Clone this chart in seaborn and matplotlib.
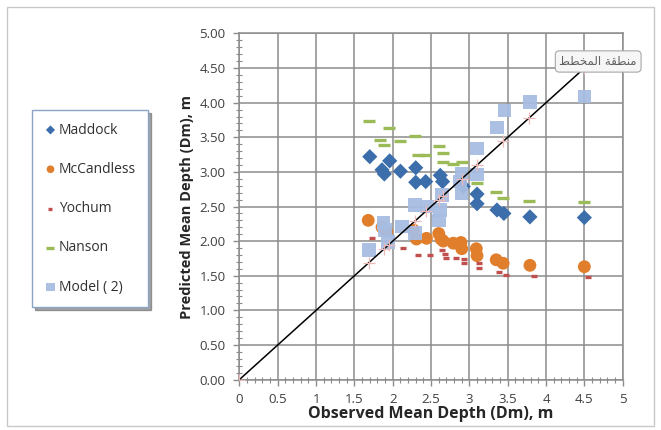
import matplotlib as mpl
import matplotlib.pyplot as plt
import numpy as np
import pandas as pd
import seaborn as sns
from matplotlib.patches import Rectangle
from matplotlib.ticker import MultipleLocator, FuncFormatter

sns.set_style("white")
plt.rcParams["font.family"] = ["Open Sans", "DejaVu Sans"]

# observed (x) vs predicted (y) mean depth
maddock_x = [1.70, 1.86, 1.89, 1.96, 2.10, 2.30, 2.30, 2.43, 2.62, 2.65, 2.92, 3.10, 3.10, 3.36, 3.45, 3.79, 4.50]
maddock_y = [3.22, 3.03, 2.97, 3.16, 3.01, 3.06, 2.85, 2.86, 2.95, 2.86, 2.79, 2.68, 2.54, 2.45, 2.40, 2.35, 2.34]

mccandless_x = [1.68, 1.86, 1.92, 2.27, 2.31, 2.44, 2.60, 2.63, 2.66, 2.79, 2.89, 2.90, 3.09, 3.10, 3.35, 3.44, 3.79, 4.50]
mccandless_y = [2.30, 2.20, 2.14, 2.16, 2.03, 2.04, 2.11, 2.03, 2.00, 1.97, 1.98, 1.89, 1.89, 1.79, 1.73, 1.68, 1.65, 1.63]

yochum_x = [1.73, 2.14, 2.33, 2.49, 2.64, 2.68, 2.70, 2.83, 2.93, 2.93, 3.13, 3.13, 3.39, 3.48, 3.84, 4.55]
yochum_y = [2.04, 1.90, 1.80, 1.80, 1.87, 1.81, 1.75, 1.75, 1.74, 1.68, 1.68, 1.61, 1.56, 1.51, 1.49, 1.48]

nanson_x = [1.69, 1.84, 1.89, 1.95, 2.10, 2.29, 2.33, 2.42, 2.60, 2.65, 2.65, 2.79, 2.90, 3.10, 3.35, 3.44, 3.78, 4.50]
nanson_y = [3.73, 3.46, 3.39, 3.64, 3.44, 3.52, 3.25, 3.25, 3.37, 3.28, 3.14, 3.12, 3.15, 2.84, 2.71, 2.63, 2.58, 2.56]

model_x = [1.69, 1.88, 1.90, 1.94, 2.12, 2.29, 2.29, 2.45, 2.60, 2.62, 2.64, 2.88, 2.90, 2.90, 3.10, 3.10, 3.36, 3.46, 3.79, 4.50]
model_y = [1.87, 2.26, 2.16, 1.99, 2.21, 2.52, 2.12, 2.50, 2.30, 2.45, 2.67, 2.86, 2.69, 2.98, 3.34, 2.96, 3.64, 3.89, 4.01, 4.09]

# 1:1 agreement line
line_x = [0, 1.69, 1.89, 1.95, 2.29, 2.44, 2.60, 2.65, 2.90, 3.10, 3.44, 3.78, 4.50]

x_ticks = [0, 0.5, 1, 1.5, 2, 2.5, 3, 3.5, 4, 4.5, 5]
y_ticks = [0.0, 0.5, 1.0, 1.5, 2.0, 2.5, 3.0, 3.5, 4.0, 4.5, 5.0]

fig = plt.figure(figsize=(6.61, 4.30), dpi=100)
fig.patches.append(Rectangle((0.011, 0.01), 0.978, 0.974, transform=fig.transFigure,
                             fill=False, ec="#c8c8c8", lw=1))
ax = fig.add_axes([0.3623, 0.1174, 0.5797, 0.8047])

line_df = pd.DataFrame({"x": line_x, "y": line_x})
sns.lineplot(data=line_df, x="x", y="y", color="black", lw=1.1, estimator=None,
             marker="+", markersize=9, markeredgecolor="#ecb8b8", mew=0.9,
             ax=ax, label="_line", zorder=4)

sns.scatterplot(x=maddock_x, y=maddock_y, marker="D", s=60, color="#3b6eaa",
                edgecolor="none", ax=ax, label="Maddock", zorder=3)
sns.scatterplot(x=mccandless_x, y=mccandless_y, marker="o", s=85, color="#e07e2c",
                edgecolor="none", ax=ax, label="McCandless", zorder=3)
sns.scatterplot(x=yochum_x, y=yochum_y, marker="_", s=25, color="#c0504d",
                linewidth=2.4, ax=ax, label="Yochum", zorder=3)
sns.scatterplot(x=nanson_x, y=nanson_y, marker="_", s=80, color="#9bbb59",
                linewidth=2.4, ax=ax, label="Nanson", zorder=3)
sns.scatterplot(x=model_x, y=model_y, marker="s", s=95, color="#a7bde2",
                edgecolor="none", ax=ax, label="Model ( 2)", zorder=3, alpha=0.95)

ax.set_xlim(0, 5)
ax.set_ylim(0, 5)
ax.set_xticks(x_ticks)
ax.set_yticks(y_ticks)
ax.xaxis.set_minor_locator(MultipleLocator(0.1))
ax.yaxis.set_minor_locator(MultipleLocator(0.1))
ax.xaxis.set_major_formatter(FuncFormatter(lambda v, p: f"{v:g}"))
ax.yaxis.set_major_formatter(FuncFormatter(lambda v, p: f"{v:.2f}"))
ax.grid(True, which="major", color="#8c8c8c", lw=1.1)
ax.set_axisbelow(True)
for s in ax.spines.values():
    s.set_color("#8c8c8c")
    s.set_linewidth(1.1)
ax.tick_params(which="major", direction="out", length=4, width=1, color="#8c8c8c",
               labelsize=9.5, labelcolor="#404040", left=True, bottom=True)
ax.tick_params(axis="y", which="major", pad=6)
ax.tick_params(axis="x", which="major", pad=6)
ax.tick_params(which="minor", direction="inout", length=5, width=0.8, color="#8c8c8c",
               left=True, bottom=True)

ax.set_xlabel("Observed Mean Depth (Dm), m", fontsize=11.5, fontweight="bold",
              color="#262626", labelpad=0)
ax.set_ylabel("Predicted Mean Depth (Dm), m", fontsize=10.5, fontweight="bold",
              color="#262626", labelpad=4)

handles, labels = ax.get_legend_handles_labels()
ax.legend_.remove()
leg = fig.legend(handles, labels, loc="upper left", bbox_to_anchor=(0.048, 0.744),
                 frameon=True, fancybox=False, shadow=True, fontsize=10,
                 labelspacing=1.75, borderpad=0.9, handlelength=0.9,
                 handletextpad=0.15, markerscale=0.6, borderaxespad=0)
leg.get_frame().set_edgecolor("#8aa4c8")
leg.get_frame().set_linewidth(1)
for t in leg.get_texts():
    t.set_color("#303030")

# tooltip "chart area" (arabic, shaped glyphs in visual order)
tip = "\ufec2\ufec4\ufea8\ufee4\ufedf\ufe8d \ufe94\ufed8\ufec4\ufee8\ufee3"
fig.text(0.905, 0.857, tip, family=["DejaVu Sans"], fontsize=8.5, color="#606060",
         ha="center", va="center",
         bbox=dict(boxstyle="round,pad=0.35", fc="#f6f6f6", ec="#a8a8a8", lw=0.8))

fig.savefig("out.png", dpi=100)
